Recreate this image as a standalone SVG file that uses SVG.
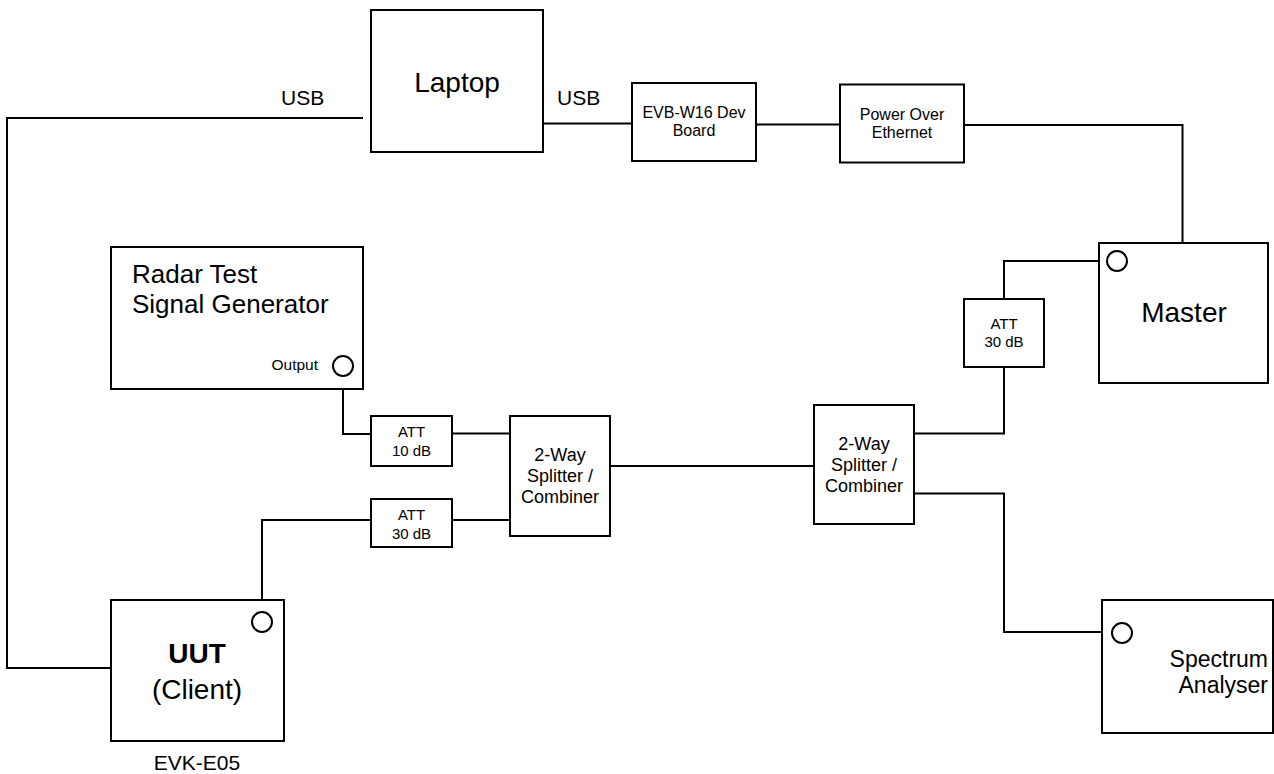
<svg xmlns="http://www.w3.org/2000/svg" width="1274" height="774" viewBox="0 0 1274 774">
<style>
.box{fill:#fff;stroke:#000;stroke-width:2}
.port{fill:#fff;stroke:#000;stroke-width:2}
.wire{fill:none;stroke:#000;stroke-width:2}
text{font-family:"Liberation Sans",Arial,sans-serif;fill:#000}
.c{text-anchor:middle}
</style>
<rect width="1274" height="774" fill="#fff"/>
<g id="connectors">
<polyline class="wire" points="363,118 7,118 7,668 111,668"/>
<line class="wire" x1="543" y1="123.5" x2="632" y2="123.5"/>
<line class="wire" x1="756" y1="124.5" x2="840" y2="124.5"/>
<polyline class="wire" points="964,125 1182.5,125 1182.5,243"/>
<polyline class="wire" points="1107,261 1004,261 1004,299"/>
<polyline class="wire" points="914,433.5 1004,433.5 1004,367"/>
<polyline class="wire" points="914,493.5 1004,493.5 1004,632 1112,632"/>
<line class="wire" x1="610" y1="466" x2="814" y2="466"/>
<polyline class="wire" points="343,376 343,434 371,434"/>
<line class="wire" x1="452" y1="433.5" x2="510" y2="433.5"/>
<line class="wire" x1="452" y1="520" x2="510" y2="520"/>
<polyline class="wire" points="371,520 262,520 262,612"/>
</g>
<text id="usb-left" x="281" y="105" font-size="21">USB</text>
<text id="usb-right" x="557" y="105" font-size="21">USB</text>
<g id="laptop">
<rect class="box" x="371" y="10" width="172" height="142"/>
<text class="c" x="457" y="92" font-size="28">Laptop</text>
</g>
<g id="evb">
<rect class="box" x="632" y="83" width="124" height="78"/>
<text class="c" x="694" y="118" font-size="16">EVB-W16 Dev</text>
<text class="c" x="694" y="136" font-size="16">Board</text>
</g>
<g id="poe">
<rect class="box" x="840" y="84.5" width="124" height="78"/>
<text class="c" x="902" y="120" font-size="16">Power Over</text>
<text class="c" x="902" y="137.5" font-size="16">Ethernet</text>
</g>
<g id="master">
<rect class="box" x="1099" y="243" width="169" height="140"/>
<circle class="port" cx="1117" cy="261" r="10"/>
<text class="c" x="1184" y="322" font-size="28">Master</text>
</g>
<g id="att-master">
<rect class="box" x="964" y="299" width="80" height="68"/>
<text class="c" x="1004" y="329" font-size="15">ATT</text>
<text class="c" x="1004" y="347" font-size="15">30 dB</text>
</g>
<g id="radar">
<rect class="box" x="111" y="247" width="252" height="142"/>
<text x="132" y="283" font-size="26">Radar Test</text>
<text x="132" y="313" font-size="26">Signal Generator</text>
<text x="318" y="370" font-size="15.5" text-anchor="end">Output</text>
<circle class="port" cx="343" cy="366" r="10"/>
</g>
<g id="att10">
<rect class="box" x="371" y="416" width="81" height="50"/>
<text class="c" x="411.5" y="437" font-size="15">ATT</text>
<text class="c" x="411.5" y="455.5" font-size="15">10 dB</text>
</g>
<g id="att30">
<rect class="box" x="371" y="499" width="81" height="48"/>
<text class="c" x="411.5" y="520" font-size="15">ATT</text>
<text class="c" x="411.5" y="538.5" font-size="15">30 dB</text>
</g>
<g id="splitter1">
<rect class="box" x="510" y="416" width="100" height="120"/>
<text class="c" x="560" y="461" font-size="18">2-Way</text>
<text class="c" x="560" y="482" font-size="18">Splitter /</text>
<text class="c" x="560" y="503" font-size="18">Combiner</text>
</g>
<g id="splitter2">
<rect class="box" x="814" y="405" width="100" height="119"/>
<text class="c" x="864" y="450" font-size="18">2-Way</text>
<text class="c" x="864" y="471" font-size="18">Splitter /</text>
<text class="c" x="864" y="492" font-size="18">Combiner</text>
</g>
<g id="uut">
<rect class="box" x="111" y="600" width="173" height="141"/>
<circle class="port" cx="262" cy="622" r="10"/>
<text class="c" x="197" y="663" font-size="28" font-weight="bold">UUT</text>
<text class="c" x="197" y="699" font-size="28">(Client)</text>
<text class="c" x="197" y="770" font-size="21">EVK-E05</text>
</g>
<g id="spectrum">
<rect class="box" x="1102" y="600" width="171" height="133"/>
<circle class="port" cx="1122" cy="633" r="10"/>
<text x="1268" y="667" font-size="23" text-anchor="end">Spectrum</text>
<text x="1268" y="693" font-size="23" text-anchor="end">Analyser</text>
</g>
</svg>
